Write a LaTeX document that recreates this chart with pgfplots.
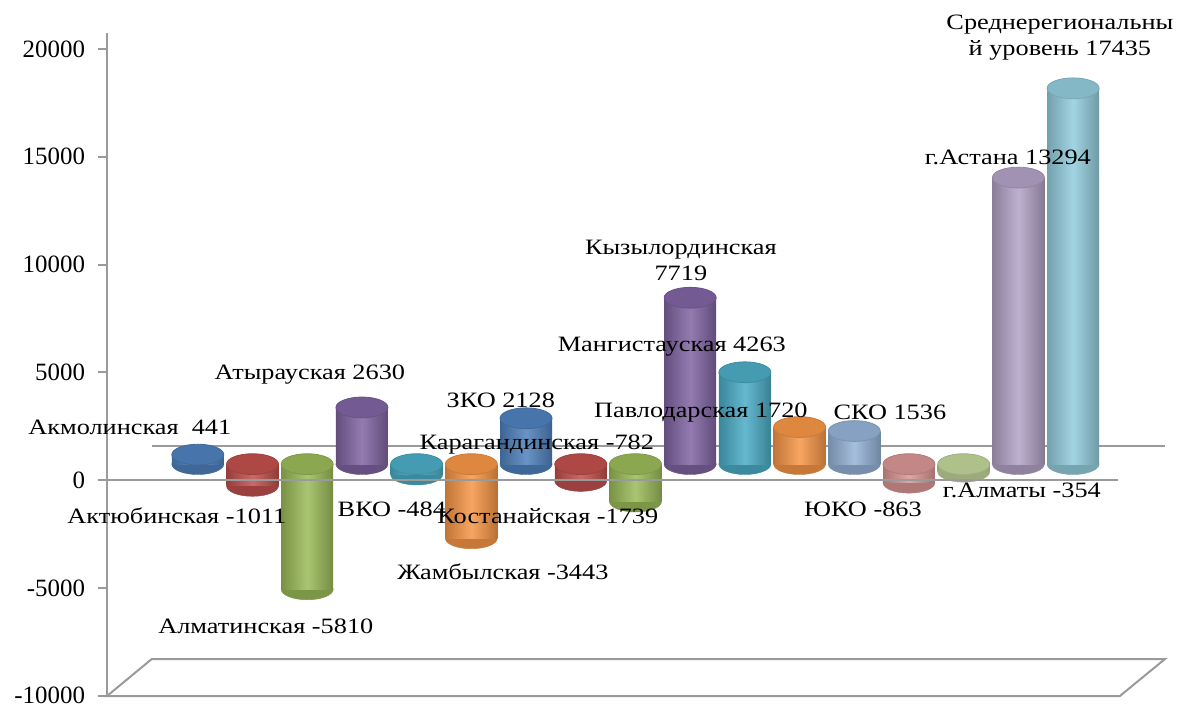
\documentclass[border=0pt]{standalone}
\usepackage{fontspec}
\setmainfont{Liberation Serif}[FakeStretch=1.2]
\newfontfamily\tickfont{Liberation Serif}
\usepackage{pgfplots}
\pgfplotsset{compat=1.18}
\definecolor{cA}{HTML}{4F81BD}
\definecolor{cB}{HTML}{C0504D}
\definecolor{cC}{HTML}{9BBB59}
\definecolor{cD}{HTML}{8064A2}
\definecolor{cE}{HTML}{4BACC6}
\definecolor{cF}{HTML}{F79646}
\definecolor{cG}{HTML}{95B3D7}
\definecolor{cH}{HTML}{D99694}
\definecolor{cI}{HTML}{C3D69B}
\definecolor{cJ}{HTML}{B3A2C7}
\definecolor{cK}{HTML}{93CDDD}
\definecolor{linecol}{HTML}{9A9A9A}
\pgfplotsset{
 bot/.style={only marks, mark=*, mark size=13bp, mark options={yscale=0.4, fill=#1!80!black, draw=#1!80!black, line width=0.2bp}},
 bar/.style={ybar, bar shift=0pt, bar width=0.95, draw=none, left color=#1!78!black, right color=#1!75!black, middle color=#1!85!white, mark=none},
 cap/.style={only marks, mark=*, mark size=13bp, mark options={yscale=0.4, fill=#1!90!black, draw=#1!82!black, line width=0.4bp}},
}
\tikzset{lab/.style={font=\fontsize{11}{13}\selectfont, inner sep=0pt, align=center}}
\begin{document}
\begin{tikzpicture}
\begin{axis}[
 scale only axis, width=529bp, height=331.5bp,
 xmin=-0.66, xmax=18.68, ymin=-10756, ymax=20000,
 axis x line=none, axis y line*=left,
 axis line style={draw=linecol, line width=1bp},
 ytick={-10000,-5000,0,5000,10000,15000,20000},
 yticklabels={-10000,-5000,0,5000,10000,15000,20000},
 scaled y ticks=false,
 tick align=outside, major tick length=4.5bp,
 major tick style={draw=linecol, line width=1bp, yshift=-8bp},
 yticklabel style={yshift=-8bp, xshift=-3bp, font=\tickfont\fontsize{12.5}{14}\selectfont},
 clip=false, clip marker paths=true,
]
% floor and back zero line
\draw[linecol, line width=1bp] (axis cs:-0.66,-10756) -- (axis cs:17.855,-10756) -- (axis cs:18.68,-9040) -- (axis cs:0.159,-9040) -- cycle;
\draw[linecol, line width=1bp] (axis cs:0.159,834) -- (axis cs:18.68,834);

% 1 Акмолинская 441
\addplot[bot=cA] coordinates {(1,0)};
\addplot[bar=cA] coordinates {(1,441)};
\addplot[cap=cA] coordinates {(1,441)};
% 2 Актюбинская -1011
\addplot[bot=cB] coordinates {(2,-1011)};
\addplot[bar=cB] coordinates {(2,-1011)};
\addplot[cap=cB] coordinates {(2,0)};
% 3 Алматинская -5810
\addplot[bot=cC] coordinates {(3,-5810)};
\addplot[bar=cC] coordinates {(3,-5810)};
\addplot[cap=cC] coordinates {(3,0)};
% 4 Атырауская 2630
\addplot[bot=cD] coordinates {(4,0)};
\addplot[bar=cD] coordinates {(4,2630)};
\addplot[cap=cD] coordinates {(4,2630)};
% 5 ВКО -484
\addplot[bot=cE] coordinates {(5,-484)};
\addplot[bar=cE] coordinates {(5,-484)};
\addplot[cap=cE] coordinates {(5,0)};
% 6 Жамбылская -3443
\addplot[bot=cF] coordinates {(6,-3443)};
\addplot[bar=cF] coordinates {(6,-3443)};
\addplot[cap=cF] coordinates {(6,0)};
% 7 ЗКО 2128
\addplot[bot=cA] coordinates {(7,0)};
\addplot[bar=cA] coordinates {(7,2128)};
\addplot[cap=cA] coordinates {(7,2128)};
% 8 Карагандинская -782
\addplot[bot=cB] coordinates {(8,-782)};
\addplot[bar=cB] coordinates {(8,-782)};
\addplot[cap=cB] coordinates {(8,0)};
% 9 Костанайская -1739
\addplot[bot=cC] coordinates {(9,-1739)};
\addplot[bar=cC] coordinates {(9,-1739)};
\addplot[cap=cC] coordinates {(9,0)};
% 10 Кызылординская 7719
\addplot[bot=cD] coordinates {(10,0)};
\addplot[bar=cD] coordinates {(10,7719)};
\addplot[cap=cD] coordinates {(10,7719)};
% 11 Мангистауская 4263
\addplot[bot=cE] coordinates {(11,0)};
\addplot[bar=cE] coordinates {(11,4263)};
\addplot[cap=cE] coordinates {(11,4263)};
% 12 Павлодарская 1720
\addplot[bot=cF] coordinates {(12,0)};
\addplot[bar=cF] coordinates {(12,1720)};
\addplot[cap=cF] coordinates {(12,1720)};
% 13 СКО 1536
\addplot[bot=cG] coordinates {(13,0)};
\addplot[bar=cG] coordinates {(13,1536)};
\addplot[cap=cG] coordinates {(13,1536)};
% 14 ЮКО -863
\addplot[bot=cH] coordinates {(14,-863)};
\addplot[bar=cH] coordinates {(14,-863)};
\addplot[cap=cH] coordinates {(14,0)};
% 15 г.Алматы -354
\addplot[bot=cI] coordinates {(15,-354)};
\addplot[bar=cI] coordinates {(15,-354)};
\addplot[cap=cI] coordinates {(15,0)};
% 16 г.Астана 13294
\addplot[bot=cJ] coordinates {(16,0)};
\addplot[bar=cJ] coordinates {(16,13294)};
\addplot[cap=cJ] coordinates {(16,13294)};
% 17 Среднерегиональный уровень 17435
\addplot[bot=cK] coordinates {(17,0)};
\addplot[bar=cK] coordinates {(17,17435)};
\addplot[cap=cK] coordinates {(17,17435)};

% front zero line
\draw[linecol, line width=1bp] (axis cs:-0.66,-740) -- (axis cs:17.82,-740);

% labels
\node[lab] at (axis cs:-0.243,1715) {Акмолинская\ \ 441};
\node[lab] at (axis cs:0.616,-2411) {Актюбинская -1011};
\node[lab] at (axis cs:2.243,-7510) {Алматинская -5810};
\node[lab] at (axis cs:3.048,4172) {Атырауская 2630};
\node[lab] at (axis cs:4.547,-2086) {ВКО -484};
\node[lab] at (axis cs:6.576,-5007) {Жамбылская -3443};
\node[lab] at (axis cs:6.539,2967) {ЗКО 2128};
\node[lab] at (axis cs:7.197,927) {Карагандинская -782};
\node[lab] at (axis cs:7.399,-2411) {Костанайская -1739};
\node[lab] at (axis cs:9.830,9458) {Кызылординская\\7719};
\node[lab] at (axis cs:9.665,5471) {Мангистауская 4263};
\node[lab] at (axis cs:10.196,2411) {Павлодарская 1720};
\node[lab] at (axis cs:13.651,2411) {СКО 1536};
\node[lab] at (axis cs:13.157,-2086) {ЮКО -863};
\node[lab] at (axis cs:16.064,-1205) {г.Алматы -354};
\node[lab] at (axis cs:15.808,14233) {г.Астана 13294};
\node[lab] at (axis cs:16.759,19796) {Среднерегиональны\\й уровень 17435};
\end{axis}
\pgfresetboundingbox
\path ([shift={(-53.5bp,-7.5bp)}]current axis.south west) rectangle ([shift={(9.5bp,16.5bp)}]current axis.north east);
\end{tikzpicture}
\end{document}
